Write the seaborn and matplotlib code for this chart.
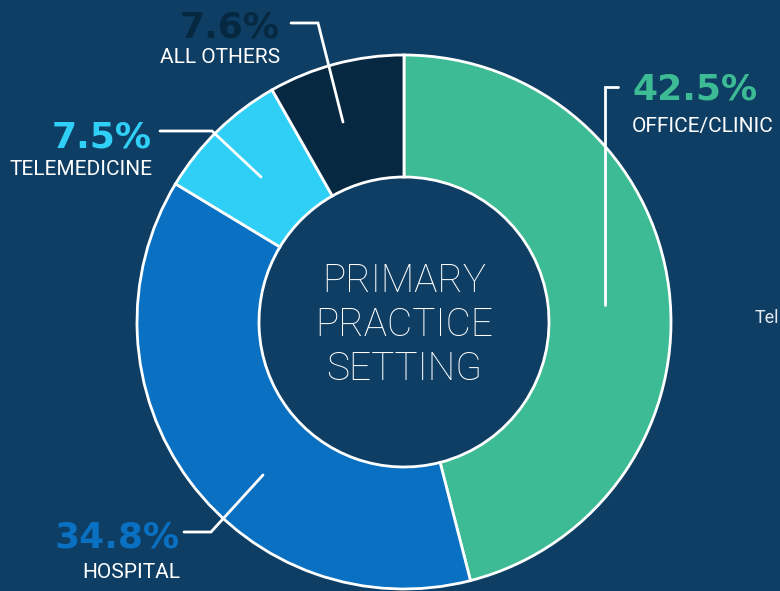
import matplotlib
matplotlib.use("Agg")
import matplotlib.pyplot as plt
import seaborn as sns

# data
settings = ["OFFICE/CLINIC", "HOSPITAL", "TELEMEDICINE", "ALL OTHERS"]
shares = [42.5, 34.8, 7.5, 7.6]
seg_colors = ["#3dbb94", "#0a70c2", "#30cff5", "#062841"]
pct_colors = ["#3dbb94", "#0a70c2", "#30cff5", "#062841"]

bg = "#0e3e64"
W, H = 780, 591

sns.set_theme(style="dark")
plt.rcParams['font.family'] = ['DejaVu Sans']

fig = plt.figure(figsize=(W / 100, H / 100), dpi=100, facecolor=bg)
ax = fig.add_axes([0, 0, 1, 1])
ax.set_facecolor(bg)

cx, cy, r_out, ring = 404, H - 322, 267, 122
ax.pie(shares, colors=seg_colors, startangle=90, counterclock=False,
       radius=r_out, center=(cx, cy),
       wedgeprops=dict(width=ring, edgecolor="white", linewidth=2))
ax.set_xlim(0, W)
ax.set_ylim(0, H)
ax.set_aspect("equal")
ax.axis("off")


def Y(y):
    return H - y


# leader lines (image coords)
leaders = [
    [(618, 87), (605, 87), (605, 305)],
    [(184, 532), (211, 532), (263, 475)],
    [(160, 131), (212, 131), (261, 177)],
    [(291, 23), (318, 23), (343, 122)],
]
for pts in leaders:
    ax.plot([p[0] for p in pts], [Y(p[1]) for p in pts], color="white", lw=2,
            solid_joinstyle="miter", zorder=5)

# label positions: x, baseline of pct, baseline of name, alignment
label_pos = [
    (632, 100, 132, "left"),
    (180, 547, 578, "right"),
    (152, 147, 175, "right"),
    (280, 37, 63, "right"),
]
name_font = ["Roboto", "DejaVu Sans"]
for name, val, col, (x, yp, yn, ha) in zip(settings, shares, pct_colors, label_pos):
    ax.text(x, Y(yp), f"{val}%", color=col, fontsize=26, fontweight="bold",
            ha=ha, va="baseline", family=["DejaVu Sans"])
    ax.text(x, Y(yn), name, color="white", fontsize=15, ha=ha, va="baseline",
            family=name_font)

# center title
center_font = ["Roboto", "DejaVu Sans"]
for line, yb in zip(["PRIMARY", "PRACTICE", "SETTING"], [292, 336, 380]):
    ax.text(cx, Y(yb), line, color="white", fontsize=28, ha="center",
            va="baseline", fontweight="light", family=center_font)

# neighbouring text cut at the right edge
ax.text(755, Y(323), "Tel", color="#e6e9ee", fontsize=13,
        ha="left", va="baseline", family=["Roboto", "DejaVu Sans"])

fig.savefig("out.png", dpi=100, facecolor=bg)
